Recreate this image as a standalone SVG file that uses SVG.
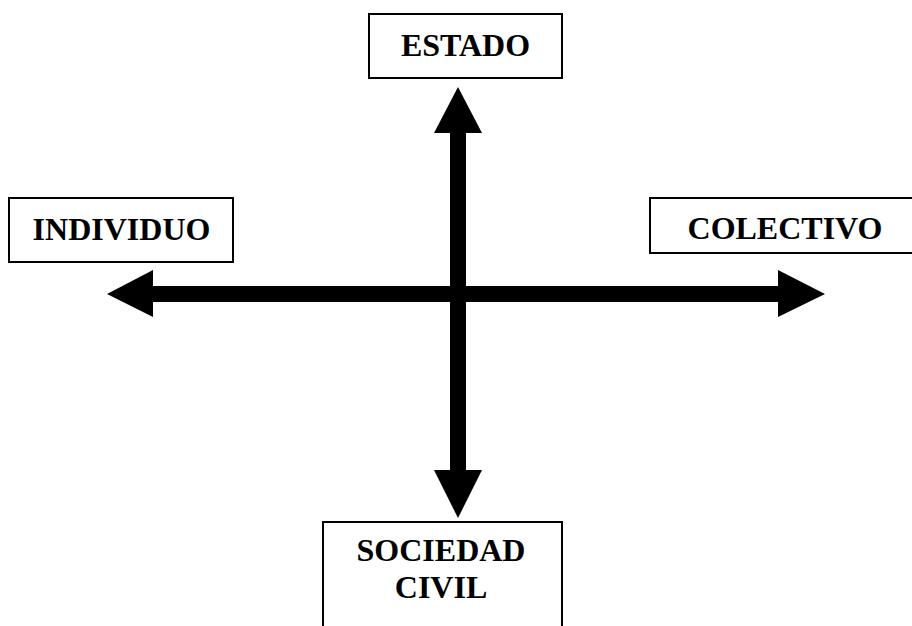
<svg xmlns="http://www.w3.org/2000/svg" width="912" height="626" viewBox="0 0 912 626">
<style>
.box{fill:#fff;stroke:#000;stroke-width:2}
.lbl{font-family:"Liberation Serif","Times New Roman",serif;font-weight:bold;font-size:32px;fill:#000;text-anchor:middle}
.arr{fill:#000;stroke:none}
</style>
<rect width="912" height="626" fill="#fff"/>
<g id="connectors">
<polygon class="arr" points="458,87 482,133 466,133 466,470 482,470 458,518 434,470 450,470 450,133 434,133"/>
<polygon class="arr" points="107,294 153,270 153,286 778,286 778,270 825,294 778,317 778,302 153,302 153,317"/>
</g>
<g id="estado">
<rect class="box" x="369" y="14" width="193" height="64"/>
<text class="lbl" x="465.5" y="56">ESTADO</text>
</g>
<g id="individuo">
<rect class="box" x="9" y="198" width="224" height="64"/>
<text class="lbl" x="121.5" y="240">INDIVIDUO</text>
</g>
<g id="colectivo">
<rect class="box" x="650" y="198" width="270" height="55"/>
<text class="lbl" x="785" y="239">COLECTIVO</text>
</g>
<g id="sociedad-civil">
<rect class="box" x="323" y="522" width="239" height="120"/>
<text class="lbl" x="441" y="561">SOCIEDAD</text>
<text class="lbl" x="441" y="598">CIVIL</text>
</g>
</svg>
